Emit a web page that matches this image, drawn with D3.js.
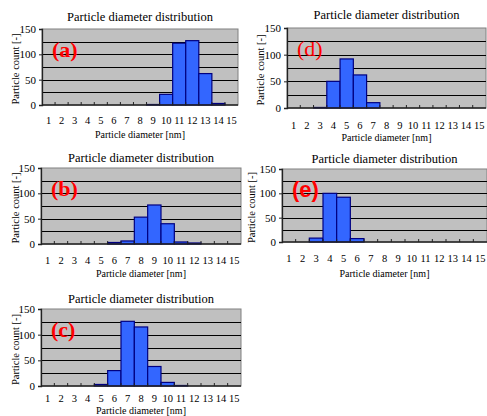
<!DOCTYPE html>
<html>
<head>
<meta charset="utf-8">
<script src="https://cdn.jsdelivr.net/npm/d3@7"></script>
<style>
  html, body { margin: 0; padding: 0; background: #fff; }
  svg { display: block; }
</style>
</head>
<body>
<svg id="chart" width="487" height="416"></svg>
<script>
// Particle diameter bins (nm)
const diameters = [1, 2, 3, 4, 5, 6, 7, 8, 9, 10, 11, 12, 13, 14, 15];
const countTicks = [0, 50, 100, 150];
const gridLevels = [25, 50, 75, 100, 125];

// Particle counts per diameter bin for each sample
const countsA = [0, 0, 0, 0, 0, 0, 0, 0, 1, 21, 122, 127, 62, 3, 0];
const countsB = [0, 0, 0, 0, 0, 3, 6, 53, 77, 40, 4, 2, 0, 0, 0];
const countsC = [0, 0, 0, 0, 3, 30, 126, 115, 38, 7, 1, 0, 0, 0, 0];
const countsD = [0, 0, 1, 50, 92, 62, 10, 0, 0, 0, 0, 0, 0, 0, 0];
const countsE = [0, 0, 8, 100, 92, 7, 0, 0, 0, 0, 0, 0, 0, 0, 0];

const panelLabels = ["(a)", "(d)", "(b)", "(e)", "(c)"];
const panelCounts = [countsA, countsD, countsB, countsE, countsC];

const SERIF = "'Liberation Serif', 'Times New Roman', Times, serif";
const SANS = "'Liberation Sans', Arial, sans-serif";

// Frame of each small chart and the offsets of its texts
const frames = [
  { x0: 42,  x1: 238, y0: 29,  y1: 105, titleY: 17,  tickY: 120, xTitleY: 134,   yTitleX: 15,  labelFont: "serif-bold" },
  { x0: 287, x1: 486, y0: 28,  y1: 108, titleY: 15,  tickY: 125, xTitleY: 137,   yTitleX: 260, labelFont: "serif" },
  { x0: 41,  x1: 241, y0: 168, y1: 244, titleY: 158, tickY: 260, xTitleY: 273,   yTitleX: 15,  labelFont: "serif-bold" },
  { x0: 282, x1: 487, y0: 169, y1: 242, titleY: 159, tickY: 258, xTitleY: 273,   yTitleX: 251, labelFont: "sans-bold" },
  { x0: 41,  x1: 241, y0: 309, y1: 386, titleY: 299, tickY: 398, xTitleY: 410.5, yTitleX: 15,  labelFont: "serif-bold" }
];

const svg = d3.select("#chart");

panelCounts.forEach((counts, i) => {
  const f = frames[i];
  const g = svg.append("g");

  const x = d3.scaleBand().domain(diameters).range([f.x0, f.x1]).padding(0);
  const y = d3.scaleLinear().domain([0, 150]).range([f.y1, f.y0]);

  // plot background
  g.append("rect")
    .attr("x", f.x0).attr("y", f.y0)
    .attr("width", f.x1 - f.x0).attr("height", f.y1 - f.y0)
    .attr("fill", "#c0c0c0")
    .attr("stroke", "#808080").attr("stroke-width", 1);

  // horizontal gridlines
  g.selectAll("line.grid").data(gridLevels).join("line")
    .attr("x1", f.x0).attr("x2", f.x1)
    .attr("y1", d => Math.round(y(d)) + 0.5).attr("y2", d => Math.round(y(d)) + 0.5)
    .attr("stroke", "#000").attr("stroke-width", 1);

  // bars
  g.selectAll("rect.bar").data(diameters.map((d, k) => ({ d, v: counts[k] })).filter(o => o.v > 0))
    .join("rect")
    .attr("x", o => x(o.d))
    .attr("y", o => y(o.v))
    .attr("width", x.bandwidth())
    .attr("height", o => y(0) - y(o.v))
    .attr("fill", "#3366ff")
    .attr("stroke", "#000080").attr("stroke-width", 1.2);

  // y axis
  const yAxis = g.append("g")
    .attr("transform", `translate(${f.x0},0)`)
    .call(d3.axisLeft(y).tickValues(countTicks).tickSize(3).tickPadding(3));
  yAxis.select(".domain").attr("stroke", "#222").attr("stroke-width", 1.3);
  yAxis.selectAll(".tick line").attr("stroke", "#222");
  yAxis.selectAll("text").style("font-size", "11px").style("font-family", SERIF).style("fill", "#000");

  // x axis: baseline with bin boundary ticks pointing up
  const xAxisLine = g.append("g");
  xAxisLine.append("line")
    .attr("x1", f.x0).attr("x2", f.x1)
    .attr("y1", f.y1).attr("y2", f.y1)
    .attr("stroke", "#222").attr("stroke-width", 1.6);
  xAxisLine.selectAll("line.b").data(diameters.slice(1)).join("line")
    .attr("x1", d => x(d)).attr("x2", d => x(d))
    .attr("y1", f.y1).attr("y2", f.y1 - 3)
    .attr("stroke", "#222").attr("stroke-width", 1);

  // x tick labels
  g.selectAll("text.xt").data(diameters).join("text")
    .attr("x", d => x(d) + x.bandwidth() / 2)
    .attr("y", f.tickY)
    .attr("dy", "0.35em")
    .attr("text-anchor", "middle")
    .style("font-family", SERIF)
    .style("font-size", "10.5px")
    .text(d => d);

  const cx = (f.x0 + f.x1) / 2;
  // title
  g.append("text")
    .attr("x", cx).attr("y", f.titleY).attr("dy", "0.35em")
    .attr("text-anchor", "middle")
    .style("font-family", SERIF)
    .style("font-size", "12.5px")
    .text("Particle diameter distribution");

  // x axis title
  g.append("text")
    .attr("x", cx).attr("y", f.xTitleY).attr("dy", "0.35em")
    .attr("text-anchor", "middle")
    .style("font-family", SERIF)
    .style("font-size", "10px")
    .text("Particle diameter [nm]");

  // y axis title
  g.append("text")
    .attr("transform", `translate(${f.yTitleX},${(f.y0 + f.y1) / 2 + 2}) rotate(-90)`)
    .attr("dy", "0.35em")
    .attr("text-anchor", "middle")
    .style("font-family", SERIF)
    .style("font-size", "10.5px")
    .text("Particle count [-]");

  // sample label
  g.append("text")
    .attr("x", f.x0 + 10).attr("y", f.y0 + 20).attr("dy", "0.35em")
    .style("font-family", f.labelFont === "sans-bold" ? SANS : SERIF)
    .style("font-size", "22px")
    .style("fill", "#ff0000")
    .style("font-weight", f.labelFont === "serif" ? "normal" : "bold")
    .text(panelLabels[i]);
});
</script>
</body>
</html>
